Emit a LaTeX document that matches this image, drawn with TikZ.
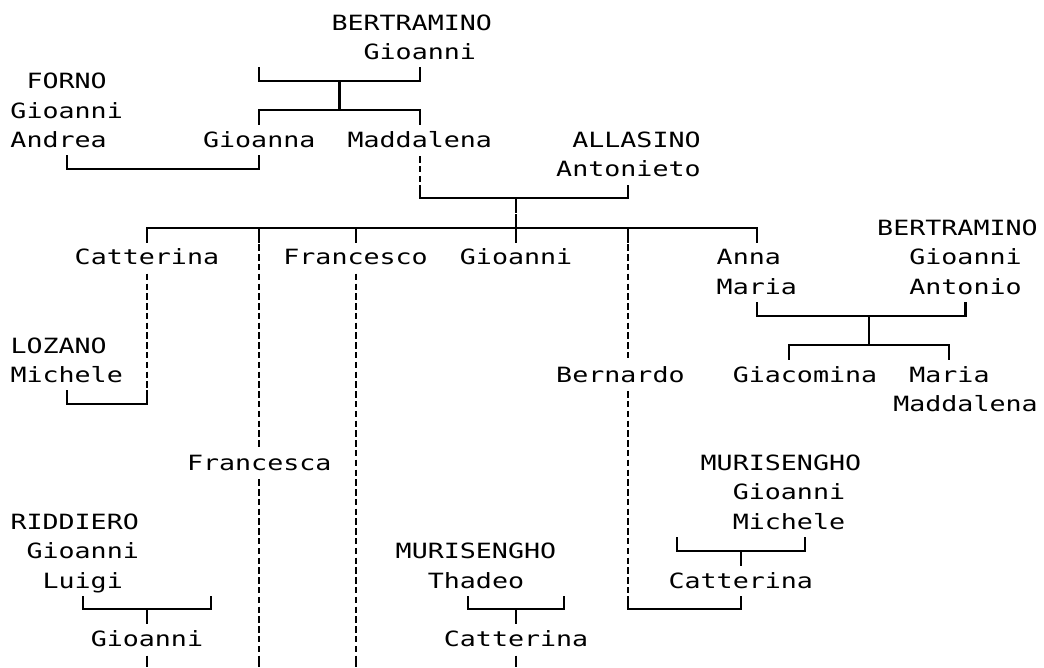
\documentclass[tikz,border=0pt]{standalone}
\usepackage{fontspec}
\newfontfamily\treefont[FakeStretch=1.2695]{DejaVu Sans Mono}
\newdimen\tcw \tcw=16.05pt
\newcommand\ind[1]{\hspace*{#1\tcw}}
\newcommand\ppl[1]{\begin{tabular}[t]{@{}l@{}}#1\end{tabular}}
\def\MO{0.2724}\def\TO{0.7014}\def\BO{0.2043}
\newcommand\ftbar[4]{\coordinate (#1l) at ({#3+0.5},{#2-\MO}); \coordinate (#1r) at ({#4+0.5},{#2-\MO}); \draw[link] (#1l) -- (#1r);}
\newcommand\ftup[3]{\coordinate (#1a) at ({#2+0.5},{#3-\TO}); \coordinate (#1b) at ({#2+0.5},{#3-\MO}); \draw[link] (#1a) -- (#1b);}
\newcommand\ftdn[3]{\coordinate (#1a) at ({#2+0.5},{#3-\MO}); \coordinate (#1b) at ({#2+0.5},{#3+\BO}); \draw[link] (#1a) -- (#1b);}
\newcommand\ftkin[4]{\coordinate (#1a) at ({#2+0.5},{#3-\TO}); \coordinate (#1b) at ({#2+0.5},{#4+\BO}); \draw[kin] (#1a) -- (#1b);}
\newcommand\ftend[2]{\coordinate (#1a) at ({#2+0.5},{22-\TO}); \coordinate (#1b) at ({#2+0.5},21.7); \draw[link,line cap=butt] (#1a) -- (#1b);}
\begin{document}
\begin{tikzpicture}[x=16.05pt,y=-29.37pt,
  person/.style={anchor=base west,inner sep=0pt,outer sep=0pt,font=\treefont\fontsize{21pt}{29.37pt}\selectfont},
  link/.style={line width=2.1pt,line cap=rect},
  kin/.style={line width=2.1pt,dash pattern=on 6.4pt off 3.39pt}]
\fill[white] (-10.5pt,30pt) rectangle (1033.5pt,-637pt);
\useasboundingbox (-10.5pt,30pt) rectangle (1033.5pt,-637pt);
% persons
\node[person] (bert1) at (20,0) {\ppl{BERTRAMINO\\\ind{2}Gioanni}};
\node[person] (forno) at (0,2) {\ppl{\ind{1}FORNO\\Gioanni\\Andrea}};
\node[person] (gioanna) at (12,4) {Gioanna};
\node[person] (maddalena) at (21,4) {Maddalena};
\node[person] (allasino) at (34,4) {\ppl{\ind{1}ALLASINO\\Antonieto}};
\node[person] (bert2) at (54,7) {\ppl{BERTRAMINO\\\ind{2}Gioanni\\\ind{2}Antonio}};
\node[person] (catterina1) at (4,8) {Catterina};
\node[person] (francesco) at (17,8) {Francesco};
\node[person] (gioanni2) at (28,8) {Gioanni};
\node[person] (annamaria) at (44,8) {\ppl{Anna\\Maria}};
\node[person] (lozano) at (0,11) {\ppl{LOZANO\\Michele}};
\node[person] (bernardo) at (34,12) {Bernardo};
\node[person] (giacomina) at (45,12) {Giacomina};
\node[person] (mariamadd) at (55,12) {\ppl{\ind{1}Maria\\Maddalena}};
\node[person] (francesca) at (11,15) {Francesca};
\node[person] (muris1) at (43,15) {\ppl{MURISENGHO\\\ind{2}Gioanni\\\ind{2}Michele}};
\node[person] (riddiero) at (0,17) {\ppl{RIDDIERO\\\ind{1}Gioanni\\\ind{2}Luigi}};
\node[person] (muris2) at (24,18) {\ppl{MURISENGHO\\\ind{2}Thadeo}};
\node[person] (catterina2) at (41,19) {Catterina};
\node[person] (gioanni3) at (5,21) {Gioanni};
\node[person] (catterina3) at (27,21) {Catterina};
% horizontal bars
\ftbar{b2}{2}{15}{25}
\ftbar{b3}{3}{15}{25}
\ftbar{b5}{5}{3}{15}
\ftbar{b6}{6}{25}{38}
\ftbar{b7}{7}{8}{46}
\ftbar{b10}{10}{46}{59}
\ftbar{b11}{11}{48}{58}
\ftbar{b13}{13}{3}{8}
\ftbar{b18}{18}{41}{49}
\ftbar{b20a}{20}{4}{12}
\ftbar{b20b}{20}{28}{34}
\ftbar{b20c}{20}{38}{45}
% upward ticks
\ftup{u1}{15}{2}
\ftup{u2}{25}{2}
\ftup{u3}{20}{3}
\ftup{u4}{3}{5}
\ftup{u5}{15}{5}
\ftup{u6}{25}{6}
\ftup{u7}{38}{6}
\ftup{u8}{31}{7}
\ftup{u9}{46}{10}
\ftup{u10}{59}{10}
\ftup{u11}{53}{11}
\ftup{u12}{3}{13}
\ftup{u13}{8}{13}
\ftup{u14}{41}{18}
\ftup{u15}{49}{18}
\ftup{u16}{4}{20}
\ftup{u17}{12}{20}
\ftup{u18}{28}{20}
\ftup{u19}{34}{20}
\ftup{u20}{38}{20}
\ftup{u21}{45}{20}
% downward ticks
\ftdn{d1}{20}{2}
\ftdn{d2}{15}{3}
\ftdn{d3}{25}{3}
\ftdn{d4}{31}{6}
\ftdn{d5}{8}{7}
\ftdn{d6}{15}{7}
\ftdn{d7}{21}{7}
\ftdn{d8}{31}{7}
\ftdn{d9}{38}{7}
\ftdn{d10}{46}{7}
\ftdn{d11}{53}{10}
\ftdn{d12}{48}{11}
\ftdn{d13}{58}{11}
\ftdn{d14}{45}{18}
\ftdn{d15}{8}{20}
\ftdn{d16}{31}{20}
% dashed descent lines
\ftkin{k1}{25}{5}{5}
\ftkin{k2}{8}{9}{12}
\ftkin{k3}{15}{8}{14}
\ftkin{k4}{15}{16}{21}
\ftkin{k5}{21}{9}{21}
\ftkin{k6}{38}{8}{11}
\ftkin{k7}{38}{13}{19}
% lines leaving the bottom edge
\ftend{e1}{8}
\ftend{e2}{15}
\ftend{e3}{21}
\ftend{e4}{31}
\end{tikzpicture}
\end{document}
